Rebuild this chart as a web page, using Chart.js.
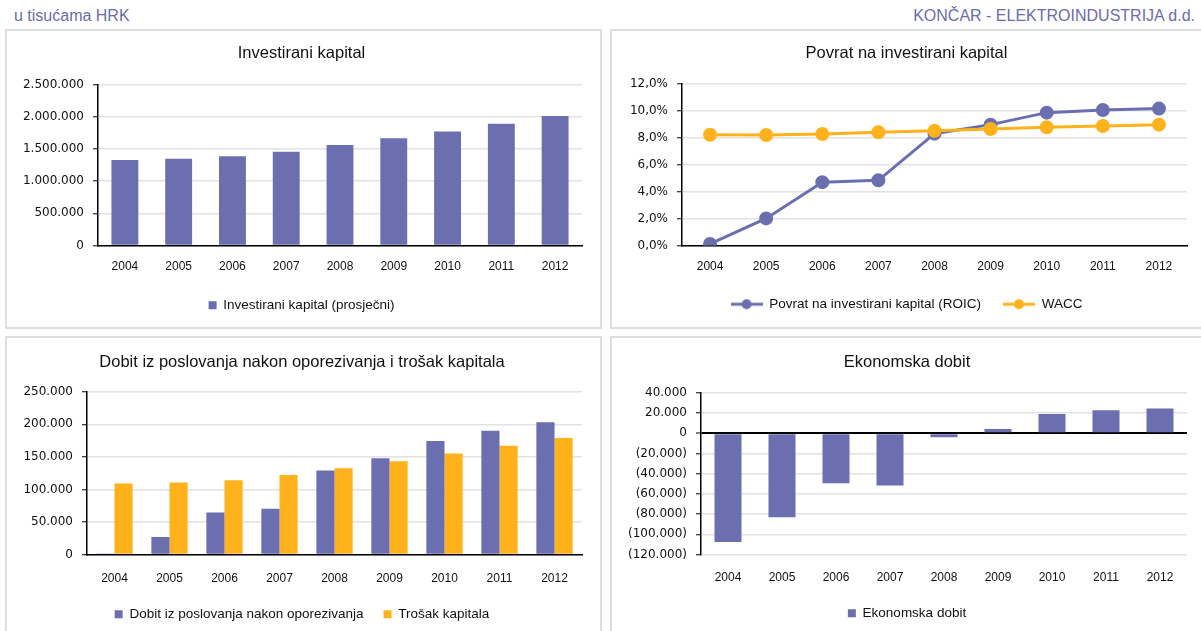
<!DOCTYPE html>
<html>
<head>
<meta charset="utf-8">
<script src="https://cdn.jsdelivr.net/npm/chart.js@4.4.1/dist/chart.umd.min.js"></script>
<style>
  body { margin: 0; background: #fff; width: 1201px; height: 631px; overflow: hidden; position: relative; font-family: 'Liberation Sans', Arial, sans-serif; }
  .hdr { position: absolute; top: 7px; font-size: 16px; color: #6c6cae; }
  .panel { position: absolute; border: 2px solid #dedede; background: #fff; }
  .panel canvas { position: absolute; top: 0; }
</style>
</head>
<body>
<div class="hdr" style="left:14px">u tisućama HRK</div>
<div class="hdr" style="right:6px">KONČAR - ELEKTROINDUSTRIJA d.d.</div>

<div class="panel" style="left:5px;top:29px;width:593px;height:296px"><canvas id="c1" width="579" height="296" style="left:14px"></canvas></div>
<div class="panel" style="left:610px;top:29px;width:600px;height:296px"><canvas id="c2" width="575" height="296" style="left:14px"></canvas></div>
<div class="panel" style="left:5px;top:336px;width:593px;height:300px"><canvas id="c3" width="578" height="293" style="left:15px"></canvas></div>
<div class="panel" style="left:610px;top:336px;width:600px;height:300px"><canvas id="c4" width="574" height="293" style="left:15px"></canvas></div>

<script>
const years = ['2004', '2005', '2006', '2007', '2008', '2009', '2010', '2011', '2012'];
const investedCapital = [1330000, 1351000, 1387000, 1460000, 1563000, 1667000, 1775000, 1894000, 2013000];
const roic = [0.12, 2.01, 4.70, 4.84, 8.30, 8.97, 9.86, 10.06, 10.16];
const wacc = [8.22, 8.20, 8.27, 8.40, 8.52, 8.65, 8.77, 8.87, 8.97];
const nopat = [1600, 26900, 64700, 70400, 128900, 148000, 174400, 190000, 203400];
const capitalCharge = [109200, 110800, 113900, 122200, 132500, 143400, 155300, 167200, 179100];
const economicProfit = [-107600, -83200, -49500, -51800, -4000, 4300, 19100, 22800, 24400];

const PURPLE = '#6b6fb0';
const ORANGE = '#ffb21c';
const GRID = '#e2e2e2';
const TICK_FONT = { family: 'DejaVu Sans', size: 12 };
const X_FONT = { family: 'Liberation Sans', size: 12 };
const LEGEND_FONT = { family: 'Liberation Sans', size: 13.5 };

const thousands = (v) => String(Math.round(Math.abs(v))).replace(/\B(?=(\d{3})+(?!\d))/g, '.');
const fmtNum = (v) => (v < 0 ? '(' + thousands(v) + ')' : thousands(v));
const fmtPct = (v) => v.toFixed(1).replace('.', ',') + '%';

// legend icon for the line chart: short line with a dot in the middle
const lineIcon = (color) => {
  const c = document.createElement('canvas');
  c.width = 32; c.height = 12;
  const g = c.getContext('2d');
  g.strokeStyle = color; g.lineWidth = 3;
  g.beginPath(); g.moveTo(0, 6); g.lineTo(32, 6); g.stroke();
  g.fillStyle = color;
  g.beginPath(); g.arc(16, 6, 5, 0, Math.PI * 2); g.fill();
  return c;
};

const baseOptions = (title, yWidth, titleTop, titleBottom, xHeight, bottomPad) => ({
  responsive: false,
  animation: false,
  layout: { padding: { left: 0, right: 14, top: 0, bottom: bottomPad } },
  plugins: {
    title: {
      display: true, text: title, color: '#111',
      font: { family: 'Liberation Sans', size: 16.5, weight: 'normal' },
      padding: { top: titleTop, bottom: titleBottom },
    },
    legend: {
      position: 'bottom',
      labels: { color: '#111', font: LEGEND_FONT, boxWidth: 8, boxHeight: 8, padding: 10 },
    },
    tooltip: { enabled: false },
  },
  scales: {
    x: {
      grid: { display: false, drawTicks: false },
      border: { display: true, color: '#000', width: 1.5 },
      ticks: { color: '#111', font: X_FONT, padding: 15, maxRotation: 0 },
      afterFit: (s) => { s.height = xHeight; },
    },
    y: {
      grid: { color: GRID, lineWidth: 1.5, tickColor: '#000', tickLength: 5, tickWidth: 1 },
      border: { display: true, color: '#000', width: 1.5 },
      ticks: { color: '#111', font: TICK_FONT, padding: 9 },
      afterFit: (s) => { s.width = yWidth; },
    },
  },
});

// 1. Investirani kapital
const o1 = baseOptions('Investirani kapital', 77, 13, 21, 43, 5);
o1.layout.padding.right = 18;
o1.scales.x.ticks.padding = 14;
o1.scales.y.min = 0; o1.scales.y.max = 2500000;
o1.scales.y.ticks.stepSize = 500000;
o1.scales.y.ticks.callback = fmtNum;
new Chart(document.getElementById('c1'), {
  type: 'bar',
  data: {
    labels: years,
    datasets: [{ label: 'Investirani kapital (prosječni)', data: investedCapital, backgroundColor: PURPLE, categoryPercentage: 1, barPercentage: 0.5 }],
  },
  options: o1,
});

// 2. Povrat na investirani kapital
const o2 = baseOptions('Povrat na investirani kapital', 56, 13, 20, 30, 6);
o2.scales.x.offset = true;
o2.scales.x.ticks.padding = 14;
o2.scales.y.min = 0; o2.scales.y.max = 12;
o2.scales.y.ticks.stepSize = 2;
o2.scales.y.ticks.callback = fmtPct;
o2.plugins.legend.labels.usePointStyle = true;
o2.plugins.legend.labels.pointStyleWidth = 32;
o2.plugins.legend.labels.padding = 22;
o2.plugins.legend.labels.generateLabels = (chart) => chart.data.datasets.map((ds, i) => ({
  text: ds.label, pointStyle: lineIcon(ds.borderColor), fillStyle: ds.borderColor,
  strokeStyle: ds.borderColor, lineWidth: 0, datasetIndex: i, fontColor: '#111',
}));
new Chart(document.getElementById('c2'), {
  type: 'line',
  data: {
    labels: years,
    datasets: [
      { label: 'Povrat na investirani kapital (ROIC)', data: roic, borderColor: PURPLE, backgroundColor: PURPLE, borderWidth: 3, pointRadius: 5.5, tension: 0, order: 1 },
      { label: 'WACC', data: wacc, borderColor: ORANGE, backgroundColor: ORANGE, borderWidth: 3, pointRadius: 5.5, tension: 0, order: 0 },
    ],
  },
  options: o2,
});

// 3. Dobit iz poslovanja nakon oporezivanja i trošak kapitala
const o3 = baseOptions('Dobit iz poslovanja nakon oporezivanja i trošak kapitala', 65, 15, 19, 33, 0);
o3.layout.padding.right = 18;
o3.scales.x.ticks.padding = 17;
o3.scales.y.min = 0; o3.scales.y.max = 250000;
o3.scales.y.ticks.stepSize = 50000;
o3.scales.y.ticks.callback = fmtNum;
o3.plugins.legend.labels.padding = 20;
new Chart(document.getElementById('c3'), {
  type: 'bar',
  data: {
    labels: years,
    datasets: [
      { label: 'Dobit iz poslovanja nakon oporezivanja', data: nopat, backgroundColor: PURPLE, categoryPercentage: 0.66, barPercentage: 1 },
      { label: 'Trošak kapitala', data: capitalCharge, backgroundColor: ORANGE, categoryPercentage: 0.66, barPercentage: 1 },
    ],
  },
  options: o3,
});

// 4. Ekonomska dobit
const o4 = baseOptions('Ekonomska dobit', 74, 15, 20, 42, 1);
o4.scales.x.ticks.padding = 16;
o4.scales.y.min = -120000; o4.scales.y.max = 40000;
o4.scales.y.ticks.stepSize = 20000;
o4.scales.y.ticks.callback = fmtNum;
o4.scales.y.grid.color = (ctx) => (ctx.tick && ctx.tick.value === 0 ? '#000' : GRID);
o4.scales.y.grid.lineWidth = (ctx) => (ctx.tick && ctx.tick.value === 0 ? 2 : 1.5);
o4.scales.x.border.display = false;
new Chart(document.getElementById('c4'), {
  type: 'bar',
  data: {
    labels: years,
    datasets: [{ label: 'Ekonomska dobit', data: economicProfit, backgroundColor: PURPLE, categoryPercentage: 1, barPercentage: 0.5 }],
  },
  options: o4,
});
</script>
</body>
</html>
